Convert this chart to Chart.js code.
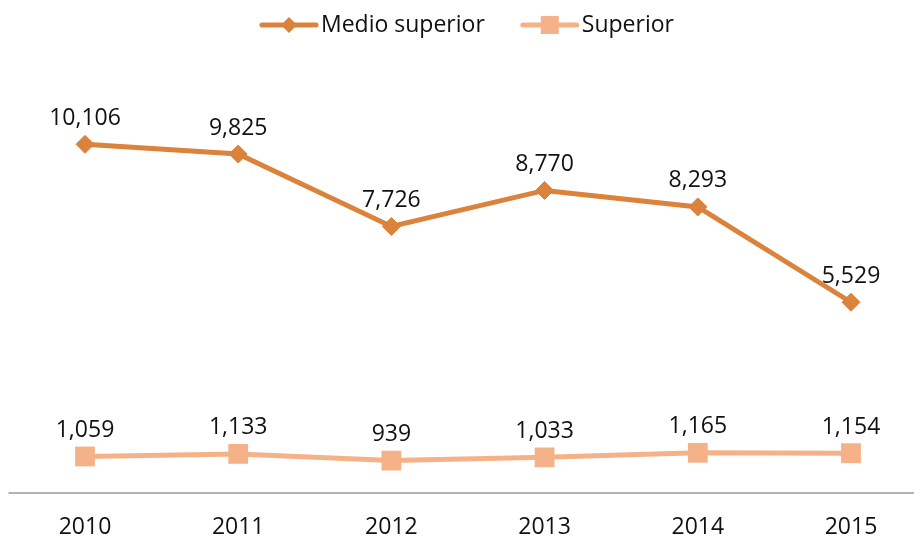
<!DOCTYPE html>
<html>
<head>
<meta charset="utf-8">
<script src="https://cdn.jsdelivr.net/npm/chart.js@4/dist/chart.umd.min.js"></script>
<style>
  html, body { margin: 0; padding: 0; background: #ffffff; }
  #wrap { width: 914px; height: 538px; position: relative; }
</style>
</head>
<body>
<div id="wrap"><canvas id="c" width="914" height="538"></canvas></div>
<script>
const years = ['2010', '2011', '2012', '2013', '2014', '2015'];
const medioSuperior = [10106, 9825, 7726, 8770, 8293, 5529];
const superior = [1059, 1133, 939, 1033, 1165, 1154];
const seriesNames = ['Medio superior', 'Superior'];

const COLOR_MEDIO = '#DB823B';
const COLOR_SUP = '#F5B289';
const TEXT = '#111111';
const FONT = '"Open Sans", "Noto Sans", sans-serif';

const axisLinePlugin = {
  id: 'axisLine',
  beforeDatasetsDraw(chart) {
    const x = chart.scales.x, ctx = chart.ctx;
    const step = x.getPixelForValue(1) - x.getPixelForValue(0);
    const left = x.getPixelForValue(0) - step / 2;
    const right = x.getPixelForValue(years.length - 1) + step / 2;
    const y = chart.chartArea.bottom;
    ctx.save();
    ctx.strokeStyle = '#9a9a9a';
    ctx.lineWidth = 1.5;
    ctx.beginPath();
    ctx.moveTo(left, y);
    ctx.lineTo(Math.min(right, chart.width), y);
    ctx.stroke();
    ctx.restore();
  }
};

const dataLabelPlugin = {
  id: 'dataLabels',
  afterDatasetsDraw(chart) {
    const ctx = chart.ctx;
    ctx.save();
    ctx.font = '23px ' + FONT;
    ctx.fillStyle = TEXT;
    ctx.textAlign = 'center';
    ctx.textBaseline = 'middle';
    chart.data.datasets.forEach((ds, i) => {
      const meta = chart.getDatasetMeta(i);
      meta.data.forEach((pt, j) => {
        ctx.fillText(ds.data[j].toLocaleString('en-US'), pt.x, pt.y - 26);
      });
    });
    ctx.restore();
  }
};

const legendPlugin = {
  id: 'customLegend',
  afterDraw(chart) {
    const ctx = chart.ctx;
    const y = 25;
    ctx.save();
    ctx.font = '23px ' + FONT;
    ctx.textBaseline = 'middle';
    ctx.textAlign = 'left';
    let x = 262;
    chart.data.datasets.forEach((ds, i) => {
      const lineLen = 54;
      ctx.strokeStyle = ds.borderColor;
      ctx.lineWidth = 5;
      ctx.lineCap = 'round';
      ctx.beginPath();
      ctx.moveTo(x, y);
      ctx.lineTo(x + lineLen, y);
      ctx.stroke();
      const cx = x + lineLen / 2;
      ctx.fillStyle = ds.borderColor;
      ctx.beginPath();
      if (ds.pointStyle === 'rectRot') {
        const r = 8;
        ctx.moveTo(cx, y - r); ctx.lineTo(cx + r, y); ctx.lineTo(cx, y + r); ctx.lineTo(cx - r, y);
        ctx.closePath();
      } else {
        ctx.rect(cx - 9, y - 9, 18, 18);
      }
      ctx.fill();
      ctx.fillStyle = TEXT;
      const tx = x + lineLen + 5;
      ctx.fillText(ds.label, tx, y);
      x = tx + ctx.measureText(ds.label).width + 38;
    });
    ctx.restore();
  }
};

function draw() {
  new Chart(document.getElementById('c'), {
    type: 'line',
    data: {
      labels: years,
      datasets: [
        {
          label: seriesNames[0],
          data: medioSuperior,
          borderColor: COLOR_MEDIO,
          backgroundColor: COLOR_MEDIO,
          borderWidth: 5,
          pointStyle: 'rectRot',
          pointRadius: 9,
          pointBorderWidth: 1,
          pointBackgroundColor: COLOR_MEDIO,
          pointBorderColor: COLOR_MEDIO,
          tension: 0,
          clip: false
        },
        {
          label: seriesNames[1],
          data: superior,
          borderColor: COLOR_SUP,
          backgroundColor: COLOR_SUP,
          borderWidth: 5,
          pointStyle: 'rect',
          pointRadius: 14,
          pointBorderWidth: 0,
          pointBackgroundColor: COLOR_SUP,
          pointBorderColor: COLOR_SUP,
          tension: 0,
          clip: false
        }
      ]
    },
    options: {
      responsive: false,
      animation: false,
      devicePixelRatio: 1,
      layout: { padding: { top: 79, left: 85, right: 63, bottom: 0 } },
      plugins: {
        legend: { display: false },
        tooltip: { enabled: false }
      },
      scales: {
        x: {
          offset: false,
          grid: { display: false, drawTicks: false },
          border: { display: false },
          afterFit(scale) { scale.height = 45; },
          ticks: {
            color: TEXT,
            padding: 23,
            font: { family: FONT, size: 23, lineHeight: 1 },
            maxRotation: 0,
            autoSkip: false
          }
        },
        y: {
          display: false,
          min: 0,
          max: 12000
        }
      }
    },
    plugins: [axisLinePlugin, dataLabelPlugin, legendPlugin]
  });
}

if (document.fonts && document.fonts.load) {
  document.fonts.load('23px "Open Sans"').then(draw, draw);
} else {
  draw();
}
</script>
</body>
</html>
